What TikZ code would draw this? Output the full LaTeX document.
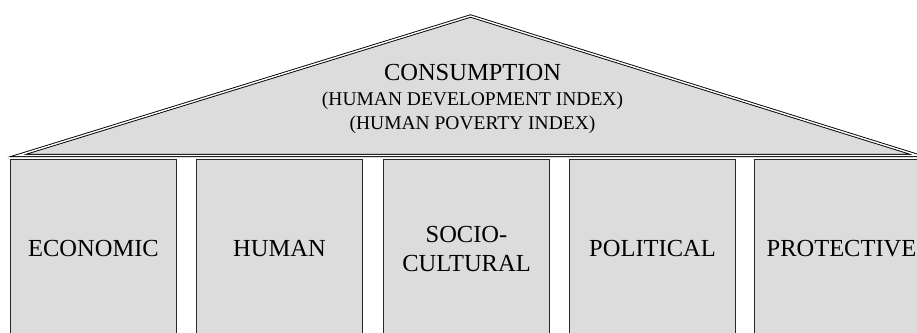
\documentclass[tikz,border=0pt]{standalone}
\usepackage{fontspec}
\setmainfont{Liberation Serif}
\definecolor{fillgray}{RGB}{220,220,220}
\definecolor{edgegray}{RGB}{40,40,40}
\begin{document}
\begin{tikzpicture}[x=1pt,y=-1pt,
  pillar/.style={draw=edgegray, line width=1pt, fill=fillgray, rectangle,
    anchor=north west, minimum height=180pt, inner sep=0pt, align=center,
    font=\fontsize{24.5}{29}\selectfont},
  roof/.style={draw=black, line width=0.9pt, double=white, double distance=1.4pt,
    fill=fillgray, miter limit=20},
  bigtitle/.style={anchor=base, inner sep=0pt, font=\fontsize{24.5}{29}\selectfont},
  subtitle/.style={anchor=base, inner sep=0pt, font=\fontsize{19.5}{24}\selectfont}]
\useasboundingbox (0,0) rectangle (917,332);
\clip (0,0) rectangle (917,332);
% roof
\coordinate (apex) at (470.5,16);
\coordinate (rl) at (18,155.5);
\coordinate (rr) at (918,155.5);
\filldraw[roof] (rl) -- (apex) -- (rr) -- cycle;
\node[bigtitle] (t1) at (472.5,80) {CONSUMPTION};
\node[subtitle] (t2) at (472.5,105) {(HUMAN DEVELOPMENT INDEX)};
\node[subtitle] (t3) at (472.5,129) {(HUMAN POVERTY INDEX)};
% pillars
\node[pillar, minimum width=166pt] (p1) at (10,158.5) {ECONOMIC};
\node[pillar, minimum width=166pt] (p2) at (196,158.5) {HUMAN};
\node[pillar, minimum width=166pt] (p3) at (383,158.5) {SOCIO-\\CULTURAL};
\node[pillar, minimum width=166pt] (p4) at (569,158.5) {POLITICAL};
\node[pillar, minimum width=174pt] (p5) at (754,158.5) {PROTECTIVE};
\end{tikzpicture}
\end{document}
